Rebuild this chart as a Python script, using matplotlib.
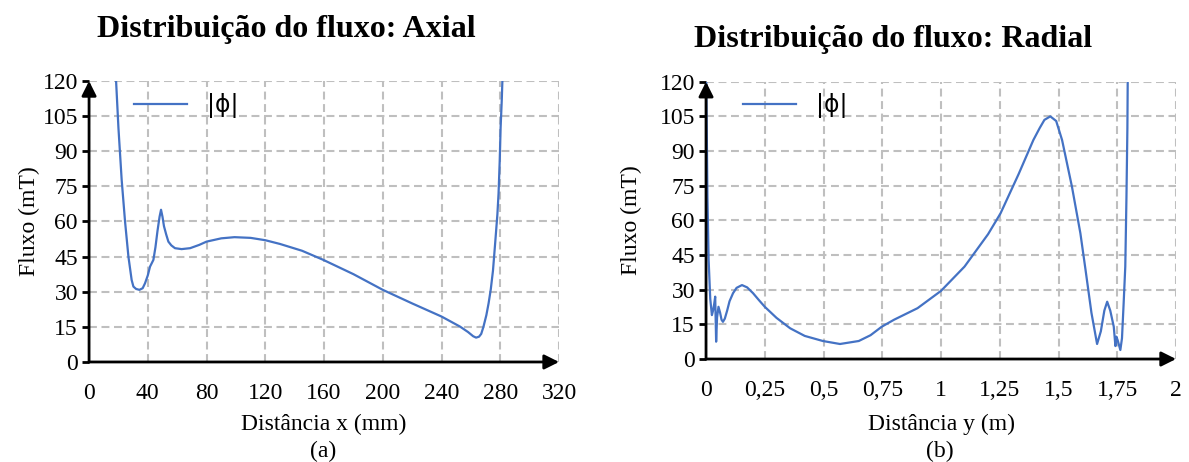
import matplotlib.pyplot as plt

# -------------------------------
# Data
# -------------------------------

# (a) Axial: distance x (mm) vs |phi| (mT)
x_axial = [17.5, 18.4, 20.0, 22.2, 24.5, 26.8, 29.0, 30.2, 32.0, 34.3, 36.5, 38.1,
           40.0, 41.5, 43.8, 45.2, 46.6, 48.0, 49.0, 50.0, 51.0, 52.5, 54.0, 56.0,
           58.5, 63.0, 68.8, 75.0, 80.0, 90.0, 99.0, 110.0, 120.0, 130.0, 145.0,
           159.5, 180.0, 200.0, 220.0, 240.0, 252.6, 258.0, 261.5, 263.5, 265.5,
           267.0, 268.5, 270.5, 272.0, 273.5, 275.0, 276.5, 278.0, 278.8, 279.6,
           280.2, 281.0, 281.4, 281.8]
flux_axial = [128, 120, 100, 77.8, 60, 45, 35, 32.2, 31.2, 30.8, 31.5, 33.6,
              37.0, 40.7, 43.6, 49.0, 56.0, 62.0, 65.0, 62.0, 58.0, 54.5, 51.4, 49.8,
              48.6, 48.2, 48.6, 50.0, 51.4, 52.8, 53.3, 53.0, 52.0, 50.4, 47.5,
              43.6, 37.5, 30.8, 25.0, 19.4, 15.1, 12.8, 11.0, 10.4, 10.8,
              12.0, 15.0, 20.0, 25.0, 31.0, 39.0, 50.8, 63.0, 72.0, 86.0,
              100.0, 112.0, 120.0, 128.0]

# (b) Radial: distance y (m) vs |phi| (mT)
y_radial = [0.000, 0.003, 0.006, 0.011, 0.018, 0.025, 0.030, 0.035, 0.039, 0.043,
            0.047, 0.053, 0.060, 0.066, 0.072, 0.080, 0.090, 0.100, 0.115, 0.130,
            0.153, 0.175, 0.200, 0.225, 0.250, 0.300, 0.358, 0.420, 0.497, 0.570,
            0.650, 0.700, 0.748, 0.800, 0.900, 1.000, 1.100, 1.200, 1.253, 1.330,
            1.393, 1.420, 1.440, 1.465, 1.490, 1.515, 1.557, 1.593, 1.615, 1.640,
            1.664, 1.680, 1.695, 1.707, 1.720, 1.735, 1.742, 1.746, 1.752, 1.763,
            1.770, 1.777, 1.784, 1.789, 1.793, 1.795]
flux_radial = [130, 100, 70, 43, 26, 19, 21, 24, 27, 7.5,
               18, 22.6, 20, 17, 16.1, 17.5, 21, 25, 28.5, 30.8,
               32, 31, 28.5, 25.5, 22.6, 17.8, 13.3, 10.0, 7.8, 6.5,
               7.8, 10.3, 14.0, 17.0, 22.0, 29.5, 40.0, 54.0, 63.0, 80.0,
               94.8, 100.0, 103.5, 105.0, 103.0, 94.8, 74.6, 54.4, 38.5, 20.0,
               6.5, 12.0, 21.0, 24.8, 21.0, 14.0, 5.6, 9.7, 8.0, 3.9,
               9.0, 24.0, 40.0, 70.0, 100.0, 130.0]

y_ticks = [0, 15, 30, 45, 60, 75, 90, 105, 120]
x_ticks_a = [0, 40, 80, 120, 160, 200, 240, 280, 320]
x_ticks_b = [0, 0.25, 0.5, 0.75, 1, 1.25, 1.5, 1.75, 2]
x_labels_b = ["0", "0,25", "0,5", "0,75", "1", "1,25", "1,5", "1,75", "2"]

# -------------------------------
# Style
# -------------------------------

plt.rcParams['font.family'] = ['Liberation Serif', 'DejaVu Serif']
line_color = '#4472C4'
grid_color = '#BFBFBF'
fs = 17

fig = plt.figure(figsize=(11.89, 4.62), dpi=100)
ax_a = fig.add_axes([0.0749, 0.2165, 0.3953, 0.6082])
ax_b = fig.add_axes([0.5938, 0.2229, 0.3953, 0.6002])


def style_axis(ax, xticks, xlabels, xmax, legend_xy):
    ax.set_ylim(0, 120)
    ax.set_xlim(0, xmax)
    ax.set_yticks(y_ticks)
    ax.set_xticks(xticks)
    ax.set_xticklabels(xlabels)
    ax.tick_params(axis='y', labelsize=fs, length=5, width=2, pad=3)
    ax.tick_params(axis='x', labelsize=fs, length=0, pad=15)
    ax.grid(True, color=grid_color, linestyle=(0, (3.8, 2.2)), linewidth=1.5)
    ax.set_axisbelow(True)
    for s in ['top', 'right', 'bottom', 'left']:
        ax.spines[s].set_visible(False)
    # axis arrows
    ax.annotate('', xy=(1.0, 0), xytext=(0, 0), xycoords='axes fraction',
                arrowprops=dict(arrowstyle='-|>', color='black', lw=2,
                                mutation_scale=22, shrinkA=0, shrinkB=0))
    ax.annotate('', xy=(0, 1.0), xytext=(0, 0), xycoords='axes fraction',
                arrowprops=dict(arrowstyle='-|>', color='black', lw=2,
                                mutation_scale=22, shrinkA=0, shrinkB=0))
    ax.legend(loc='center left', bbox_to_anchor=legend_xy, borderaxespad=0,
              borderpad=0, frameon=False, handlelength=2.25, handletextpad=0.85,
              prop={'family': 'DejaVu Sans', 'size': 17})


# -------------------------------
# (a) Axial
# -------------------------------
ax_a.plot(x_axial, flux_axial, color=line_color, lw=1.6, label='|ϕ|')
style_axis(ax_a, x_ticks_a, [str(v) for v in x_ticks_a], 320, (0.0957, 0.911))
ax_a.set_ylabel('Fluxo (mT)', fontsize=fs)
ax_a.set_xlabel('Distância x (mm)', fontsize=fs, va='center')
ax_a.yaxis.set_label_coords(-0.104, 0.5)
ax_a.xaxis.set_label_coords(0.5, -0.222)

# -------------------------------
# (b) Radial
# -------------------------------
ax_b.plot(y_radial, flux_radial, color=line_color, lw=1.6, label='|ϕ|')
style_axis(ax_b, x_ticks_b, x_labels_b, 2, (0.079, 0.913))
ax_b.set_ylabel('Fluxo (mT)', fontsize=fs)
ax_b.set_xlabel('Distância y (m)', fontsize=fs, va='center')
ax_b.yaxis.set_label_coords(-0.136, 0.5)
ax_b.xaxis.set_label_coords(0.5, -0.236)

# titles and captions
fig.text(286 / 1189, 1 - 29 / 462, 'Distribuição do fluxo: Axial', ha='center', va='center',
         fontsize=23, fontweight='bold')
fig.text(893 / 1189, 1 - 39 / 462, 'Distribuição do fluxo: Radial', ha='center', va='center',
         fontsize=23, fontweight='bold')
fig.text(323 / 1189, 1 - 451 / 462, '(a)', ha='center', va='center', fontsize=fs)
fig.text(940 / 1189, 1 - 451 / 462, '(b)', ha='center', va='center', fontsize=fs)

fig.savefig('out.png', dpi=100)
